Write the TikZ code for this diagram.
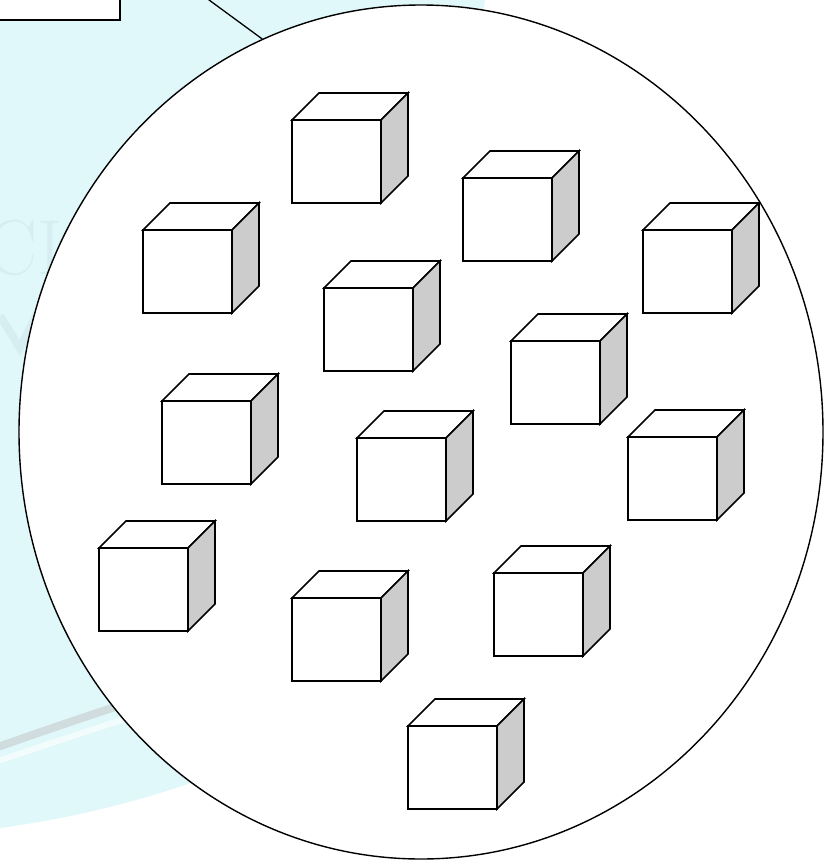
\documentclass[tikz,border=0pt]{standalone}
\usetikzlibrary{shapes.geometric}
\definecolor{wmcyan}{RGB}{225,248,250}
\definecolor{wmgray}{RGB}{208,220,222}
\definecolor{wmtext}{RGB}{214,238,241}
\definecolor{sideg}{RGB}{204,204,204}
\tikzset{
  cubeline/.style={line width=1.6pt, line join=miter, draw=black},
  cube/.pic={
    \path[cubeline, fill=white] (0,0) -- (27,-27) -- (116,-27) -- (89,0) -- cycle;
    \path[cubeline, fill=sideg] (89,0) -- (116,-27) -- (116,56) -- (89,83) -- cycle;
    \path[cubeline, fill=white] (0,0) rectangle (89,83);
  },
  cellshape/.style={ellipse, draw=black, fill=white, line width=1.4pt,
    minimum width=804pt, minimum height=854pt, inner sep=0pt},
  labelbox/.style={draw=black, fill=white, line width=1.6pt},
  link/.style={draw=black, line width=1.3pt}
}
\begin{document}
\begin{tikzpicture}[x=1pt,y=-1pt]
\useasboundingbox (0,0) rectangle (827,863);
\clip (0,0) rectangle (827,863);
\fill[white] (0,0) rectangle (827,863);
% watermark background
\fill[wmcyan] (0,0) -- (485,0) -- (420,420) -- (205,778) .. controls (130,805) and (60,820) .. (0,828) -- cycle;
\node[text=wmtext, font=\fontsize{78}{80}\selectfont, anchor=base west] (wm) at (-18,274) {CI};
\draw[wmtext, line width=8pt] (0,316) -- (20,348) -- (38,312);
\draw[wmgray, line width=8pt] (-5,748) .. controls (60,725) and (120,705) .. (180,686);
\draw[white, opacity=0.6, line width=6pt] (-5,762) .. controls (60,740) and (120,720) .. (180,702);
% top-left box and link
\path[labelbox] (-5,-20) rectangle (120,20);
% the cell
\node[cellshape] (cell) at (421,432) {};
\coordinate (linkstart) at (190,-14);
\draw[link] (linkstart) -- (cell.112.7);
% cubes
\pic (c1) at (292,120) {cube};
\pic (c2) at (463,178) {cube};
\pic (c3) at (643,230) {cube};
\pic (c4) at (143,230) {cube};
\pic (c5) at (324,288) {cube};
\pic (c6) at (511,341) {cube};
\pic (c7) at (162,401) {cube};
\pic (c8) at (357,438) {cube};
\pic (c9) at (628,437) {cube};
\pic (c10) at (99,548) {cube};
\pic (c11) at (292,598) {cube};
\pic (c12) at (494,573) {cube};
\pic (c13) at (408,726) {cube};
\end{tikzpicture}
\end{document}
